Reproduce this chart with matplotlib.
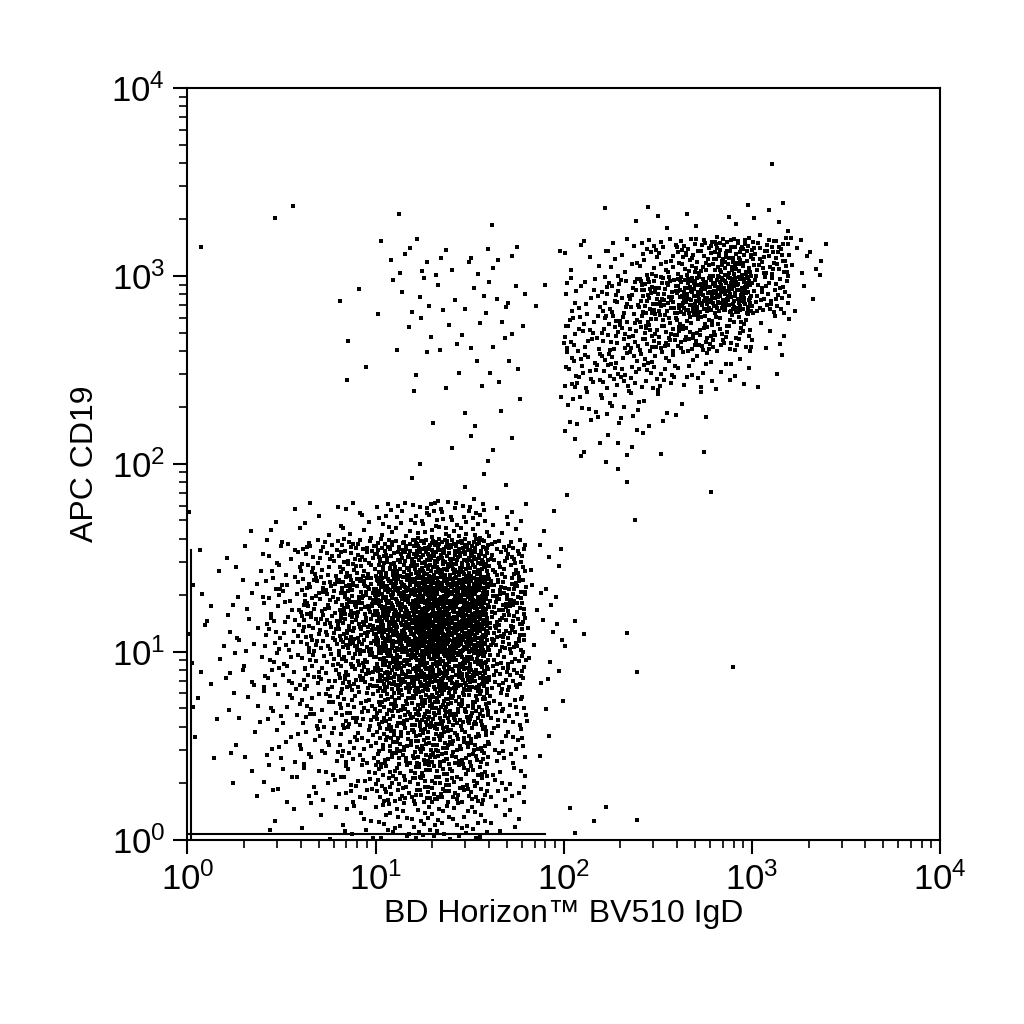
import matplotlib
matplotlib.use('Agg')
import numpy as np
import matplotlib.pyplot as plt
from matplotlib.ticker import LogLocator, FixedLocator

plt.rcParams['font.family'] = ['Liberation Sans', 'DejaVu Sans']

# event counts per 0.2-decade cell
# key: lower log10 edge of the y bin; columns: x bins 0.0,0.2,...,3.4 (log10)
X_EDGES = [0.0, 0.2, 0.4, 0.6, 0.8, 1.0, 1.2, 1.4, 1.6, 1.8,
           2.0, 2.2, 2.4, 2.6, 2.8, 3.0, 3.2, 3.4]
COUNTS = {
    3.4: [0, 0, 0, 0, 0, 0, 0, 0, 0, 0, 0, 0, 0, 0, 0, 1, 0, 0],
    3.2: [0, 0, 2, 0, 0, 1, 0, 0, 1, 0, 0, 2, 3, 2, 4, 6, 1, 0],
    3.0: [1, 0, 0, 0, 0, 5, 6, 5, 4, 1, 6, 12, 25, 45, 70, 45, 10, 0],
    2.8: [0, 0, 0, 0, 2, 3, 5, 5, 6, 2, 15, 30, 60, 95, 110, 40, 3, 0],
    2.6: [0, 0, 0, 0, 1, 3, 4, 4, 5, 0, 25, 35, 45, 50, 35, 8, 0, 0],
    2.4: [0, 0, 0, 0, 2, 0, 3, 3, 4, 0, 25, 30, 25, 15, 10, 3, 0, 0],
    2.2: [0, 0, 0, 0, 0, 0, 2, 2, 2, 1, 12, 12, 8, 3, 0, 0, 0, 0],
    2.0: [0, 0, 0, 0, 0, 0, 0, 3, 2, 0, 5, 6, 2, 1, 0, 0, 0, 0],
    1.8: [0, 0, 0, 0, 0, 1, 2, 3, 1, 0, 1, 2, 0, 1, 0, 0, 0, 0],
    1.6: [1, 1, 3, 6, 10, 18, 28, 24, 10, 2, 0, 1, 0, 0, 0, 0, 0, 0],
    1.4: [2, 4, 14, 28, 45, 70, 100, 95, 40, 5, 0, 0, 0, 0, 0, 0, 0, 0],
    1.2: [3, 6, 20, 40, 70, 120, 170, 150, 60, 6, 0, 0, 0, 0, 0, 0, 0, 0],
    1.0: [4, 8, 20, 40, 65, 120, 190, 150, 55, 6, 3, 1, 0, 0, 0, 0, 0, 0],
    0.8: [4, 8, 18, 30, 50, 90, 120, 100, 40, 5, 0, 1, 0, 0, 1, 0, 0, 0],
    0.6: [3, 6, 12, 20, 35, 60, 80, 65, 25, 3, 0, 0, 0, 0, 0, 0, 0, 0],
    0.4: [2, 4, 10, 15, 25, 50, 65, 50, 20, 2, 0, 0, 0, 0, 0, 0, 0, 0],
    0.2: [0, 3, 8, 10, 20, 40, 50, 40, 15, 0, 0, 0, 0, 0, 0, 0, 0, 0],
    0.0: [0, 0, 3, 5, 10, 20, 25, 20, 8, 0, 3, 2, 0, 0, 0, 0, 0, 0],
}
BIN = 0.2

# off-scale pile-up events along the lower/left edges
PILE_X = 1.04        # vertical pile at this x, up to PILE_Y_TOP
PILE_Y_TOP = 35
PILE_Y = 1.07        # horizontal pile at this y, up to PILE_X_RIGHT
PILE_X_RIGHT = 80


def halton(i, base):
    f, r = 1.0, 0.0
    while i > 0:
        f /= base
        r += f * (i % base)
        i //= base
    return r


def cell_points(x0, y0, n, seed):
    xs, ys = [], []
    for k in range(n):
        j = seed * 37 + k + 1
        xs.append(x0 + BIN * halton(j, 2))
        ys.append(y0 + BIN * halton(j, 3))
    return xs, ys


lx, ly = [], []
cell = 0
for y0, row in COUNTS.items():
    for x0, n in zip(X_EDGES, row):
        cell += 1
        if n:
            xs, ys = cell_points(x0, y0, n, cell)
            lx += xs
            ly += ys
px = 10 ** np.array(lx)
py = 10 ** np.array(ly)

fig = plt.figure(figsize=(10.24, 10.24), dpi=100)
ax = fig.add_axes([0.183, 0.18, 0.735, 0.734])
ax.set_xscale('log')
ax.set_yscale('log')
ax.plot(px, py, 's', color='black', markersize=2.2, markeredgewidth=0, linestyle='none')
ax.plot([PILE_X, PILE_X], [1.0, PILE_Y_TOP], color='black', lw=1.5)
ax.plot([1.0, PILE_X_RIGHT], [PILE_Y, PILE_Y], color='black', lw=1.5)
ax.set_xlim(1, 1e4)
ax.set_ylim(1, 1e4)

for axis in (ax.xaxis, ax.yaxis):
    axis.set_major_locator(FixedLocator([1, 10, 100, 1000, 10000]))
    axis.set_minor_locator(LogLocator(base=10, subs=np.arange(2, 10), numticks=20))
ax.tick_params(which='major', direction='out', length=10, width=1.5, labelsize=25, pad=6)
ax.tick_params(which='minor', direction='out', length=6, width=1.2)
ax.tick_params(top=False, right=False, which='both')
for s in ax.spines.values():
    s.set_linewidth(1.5)

ax.set_xlabel('BD Horizon™ BV510 IgD', fontsize=23, labelpad=2)
ax.set_ylabel('APC CD19', fontsize=23, labelpad=8)

fig.savefig('out.png', dpi=100, facecolor='white')
